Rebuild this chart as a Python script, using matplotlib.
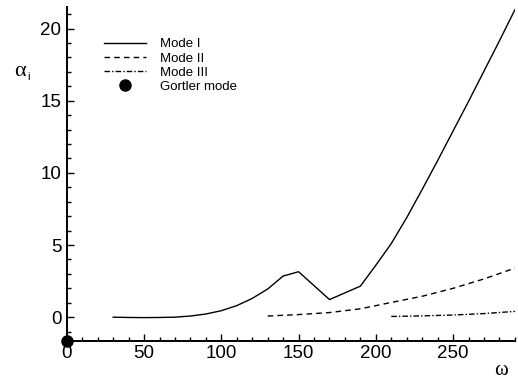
import numpy as np
import matplotlib.pyplot as plt
from matplotlib.ticker import MultipleLocator

plt.rcParams['font.family'] = ['Liberation Sans', 'DejaVu Sans']

# Mode I
w1 = [30, 40, 50, 60, 70, 80, 90, 100, 110, 120, 130, 140, 150, 170, 190,
      200, 210, 220, 230, 240, 250, 260, 270, 280, 290]
a1 = [0.0, -0.02, -0.03, -0.02, 0.0, 0.08, 0.22, 0.45, 0.8, 1.3, 1.95, 2.85, 3.15, 1.22, 2.15,
      3.6, 5.1, 6.9, 8.85, 10.85, 12.9, 14.95, 17.05, 19.15, 21.3]
# Mode II
w2 = [130, 150, 170, 190, 200, 210, 230, 250, 270, 290]
a2 = [0.08, 0.18, 0.32, 0.58, 0.8, 1.02, 1.45, 2.0, 2.65, 3.4]
# Mode III
w3 = [210, 230, 250, 270, 290]
a3 = [0.05, 0.09, 0.15, 0.25, 0.4]
# Gortler mode
wg = [0]
ag = [-1.65]

fig = plt.figure(figsize=(5.18, 3.81), dpi=100)
ax = fig.add_axes([0.129, 0.105, 0.865, 0.877])

ax.plot(w1, a1, color='black', lw=1.0, label='Mode I')
ax.plot(w2, a2, color='black', lw=1.0, ls=(0, (4, 3)), label='Mode II')
ax.plot(w3, a3, color='black', lw=1.0, ls=(0, (4, 1.5, 1, 1.5)), label='Mode III')
ax.plot(wg, ag, 'o', color='black', ms=8, clip_on=False, zorder=5, label='Gortler mode')

ax.set_xlim(0, 290)
ax.set_ylim(-1.65, 21.5)
ax.xaxis.set_major_locator(MultipleLocator(50))
ax.xaxis.set_minor_locator(MultipleLocator(10))
ax.yaxis.set_major_locator(MultipleLocator(5))
ax.yaxis.set_minor_locator(MultipleLocator(1))
ax.tick_params(which='both', direction='in', labelsize=13.5, width=1.0)
ax.tick_params(which='major', length=5)
ax.tick_params(which='minor', length=3)
ax.tick_params(axis='x', pad=3)
ax.tick_params(axis='y', pad=4)
ax.spines['top'].set_visible(False)
ax.spines['right'].set_visible(False)
ax.spines['left'].set_linewidth(1.4)
ax.spines['bottom'].set_linewidth(1.4)

fig.text(0.967, 0.015, 'ω', fontsize=15, family='Liberation Serif', ha='center')
fig.text(0.038, 0.8, 'α', fontsize=16, family='Liberation Serif', ha='center')
fig.text(0.055, 0.79, 'i', fontsize=8, ha='center')

ax.legend(loc='upper left', bbox_to_anchor=(0.057, 0.942), frameon=False, fontsize=9.5,
          handlelength=3.2, handletextpad=1.0, labelspacing=0.15)

fig.savefig('out.png', dpi=100)
